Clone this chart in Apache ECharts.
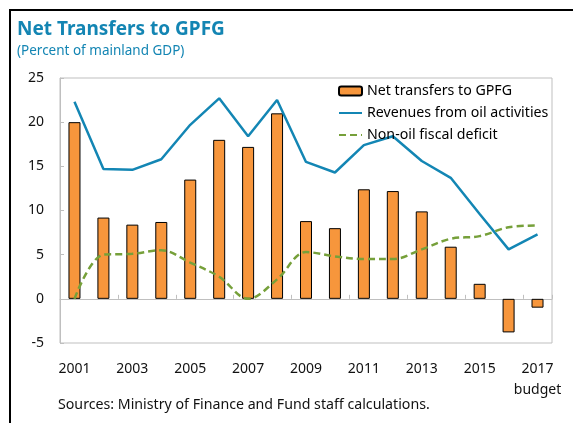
<!DOCTYPE html>
<html><head><meta charset="utf-8">
<script src="https://cdn.jsdelivr.net/npm/echarts@6/dist/echarts.min.js"></script>
<style>html,body{margin:0;padding:0;background:#fff}#c{width:573px;height:423px}</style>
</head><body><div id="c"></div>
<script>
const years = ['2001','2002','2003','2004','2005','2006','2007','2008','2009','2010','2011','2012','2013','2014','2015','2016','2017'];
const netTransfers = [20.0, 9.2, 8.4, 8.7, 13.5, 18.0, 17.2, 21.0, 8.8, 8.0, 12.4, 12.2, 9.9, 5.9, 1.7, -3.8, -1.0];
const oilRevenues = [22.3, 14.7, 14.6, 15.8, 19.7, 22.7, 18.4, 22.5, 15.5, 14.3, 17.4, 18.4, 15.6, 13.7, 9.6, 5.6, 7.3];
const nonOilDeficit = [0.0, 5.0, 5.1, 5.5, 4.1, 2.5, 0.0, 2.2, 5.3, 4.8, 4.5, 4.5, 5.6, 6.8, 7.1, 8.1, 8.3];
const yTicks = [-5, 0, 5, 10, 15, 20, 25];

const FONT = 'Noto Sans';
const chart = echarts.init(document.getElementById('c'));
chart.setOption({
  animation: false,
  textStyle: { fontFamily: FONT },
  title: {
    text: 'Net Transfers to GPFG',
    subtext: '(Percent of mainland GDP)',
    left: 12, top: 15, itemGap: 5,
    textStyle: { fontFamily: FONT, fontSize: 19, fontWeight: 'bold', color: '#1385B3' },
    subtextStyle: { fontFamily: FONT, fontSize: 13.5, color: '#1385B3' }
  },
  legend: {
    orient: 'vertical', left: 333, top: 79, itemWidth: 23, itemHeight: 9, itemGap: 8,
    textStyle: { fontFamily: FONT, fontSize: 14.2, color: '#000' },
    data: [
      { name: 'Net transfers to GPFG' },
      { name: 'Revenues from oil activities', itemStyle: { opacity: 0 } },
      { name: 'Non-oil fiscal deficit', itemStyle: { opacity: 0 } }
    ]
  },
  grid: { left: 60, top: 78, right: 21, bottom: 80, show: true, borderColor: '#BFBFBF', borderWidth: 1, containLabel: false },
  xAxis: [
    {
      type: 'category', data: years, boundaryGap: true,
      axisLine: { show: false, onZero: false },
      axisTick: { show: false },
      axisLabel: {
        interval: 1, margin: 16, fontSize: 14, color: '#111', fontFamily: FONT, lineHeight: 21,
        formatter: v => v === '2017' ? '2017\nbudget' : v
      }
    },
    {
      type: 'category', data: years, boundaryGap: true, position: 'bottom',
      axisLine: { show: true, onZero: true, lineStyle: { color: '#BFBFBF', width: 1 } },
      axisTick: { show: true, inside: true, interval: 1, length: 4, lineStyle: { color: '#BFBFBF' } },
      axisLabel: { show: false }
    }
  ],
  yAxis: {
    type: 'value', min: -5, max: 25, interval: 5,
    axisLine: { show: true, lineStyle: { color: '#BFBFBF' } },
    axisTick: { show: true, inside: true, length: 4, lineStyle: { color: '#BFBFBF' } },
    axisLabel: { fontSize: 14, color: '#111', margin: 16, fontFamily: FONT,
      formatter: v => yTicks.includes(v) ? String(v) : '' },
    splitLine: { show: false }
  },
  series: [
    {
      name: 'Net transfers to GPFG', type: 'bar', data: netTransfers, barWidth: 12,
      itemStyle: { color: '#F7963C', borderColor: '#000', borderWidth: 1 }, z: 2
    },
    {
      name: 'Revenues from oil activities', type: 'line', data: oilRevenues, symbol: 'none',
      lineStyle: { color: '#1386B4', width: 2.5 }, itemStyle: { color: '#1386B4' }, z: 3
    },
    {
      name: 'Non-oil fiscal deficit', type: 'line', data: nonOilDeficit, symbol: 'none', smooth: 0.35,
      lineStyle: { color: '#76A03A', width: 2.5, type: [7, 4] }, itemStyle: { color: '#76A03A' }, z: 3
    }
  ],
  graphic: [
    { type: 'rect', shape: { x: 9, y: 9, width: 2, height: 414 }, style: { fill: '#000' } },
    { type: 'rect', shape: { x: 9, y: 9, width: 564, height: 2 }, style: { fill: '#000' } },
    { type: 'text', left: 58, top: 398, style: { text: 'Sources: Ministry of Finance and Fund staff calculations.', fontFamily: FONT, fontSize: 14.2, fill: '#111' } }
  ]
});
</script></body></html>
